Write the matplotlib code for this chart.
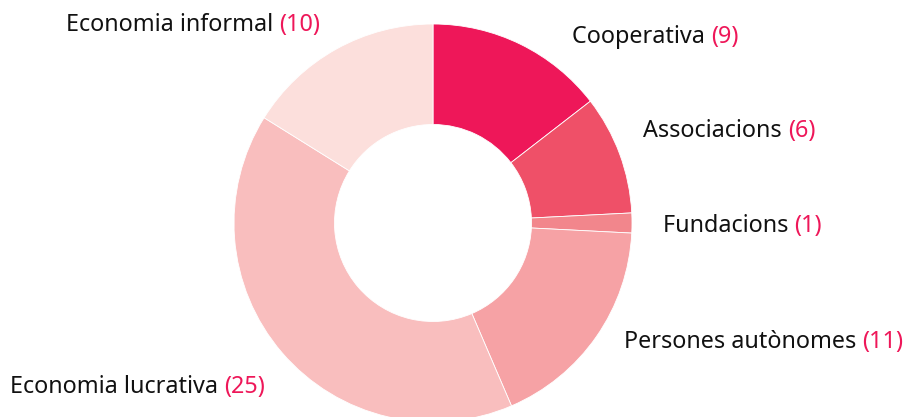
import matplotlib
matplotlib.use("Agg")
import matplotlib.pyplot as plt

matplotlib.rcParams['font.family'] = ['Noto Sans', 'DejaVu Sans']

categories = ["Cooperativa", "Associacions", "Fundacions", "Persones autònomes",
              "Economia lucrativa", "Economia informal"]
values = [9, 6, 1, 11, 25, 10]
colors = ["#EE1759", "#EF5068", "#F2868C", "#F6A2A5", "#F9BEBE", "#FCDFDC"]
value_color = "#EE1759"

# label anchor positions in pixels (x, y from top), and alignment
label_pos = [(572, 37, "left"), (643, 131, "left"), (663, 226, "left"),
             (624, 342, "left"), (10, 387, "left"), (320, 25, "right")]

W, H = 904, 417
fig = plt.figure(figsize=(W / 100, H / 100), dpi=100)
ax = fig.add_axes([0, 0, 1, 1])

cx, cy, R = 433, H - 223, 199
ax.pie(values, colors=colors, startangle=90, counterclock=False,
       center=(cx, cy), radius=R, frame=True,
       wedgeprops=dict(width=R * 0.505, edgecolor="white", linewidth=0.6))
ax.set_xlim(0, W)
ax.set_ylim(0, H)
ax.set_aspect("equal")
ax.axis("off")

fs = 16.8
for name, v, (x, y, ha) in zip(categories, values, label_pos):
    if ha == "left":
        t = ax.text(x, H - y, name + " ", fontsize=fs, color="#111111", ha="left", va="center")
        fig.canvas.draw()
        bb = t.get_window_extent()
        ax.annotate(f"({v})", xy=(bb.x1, H - y), xycoords="figure pixels",
                    fontsize=fs, color=value_color, ha="left", va="center")
    else:
        t = ax.text(x, H - y, f"({v})", fontsize=fs, color=value_color, ha="right", va="center")
        fig.canvas.draw()
        bb = t.get_window_extent()
        ax.annotate(name + " ", xy=(bb.x0, H - y), xycoords="figure pixels",
                    fontsize=fs, color="#111111", ha="right", va="center")

fig.savefig("out.png", dpi=100)
